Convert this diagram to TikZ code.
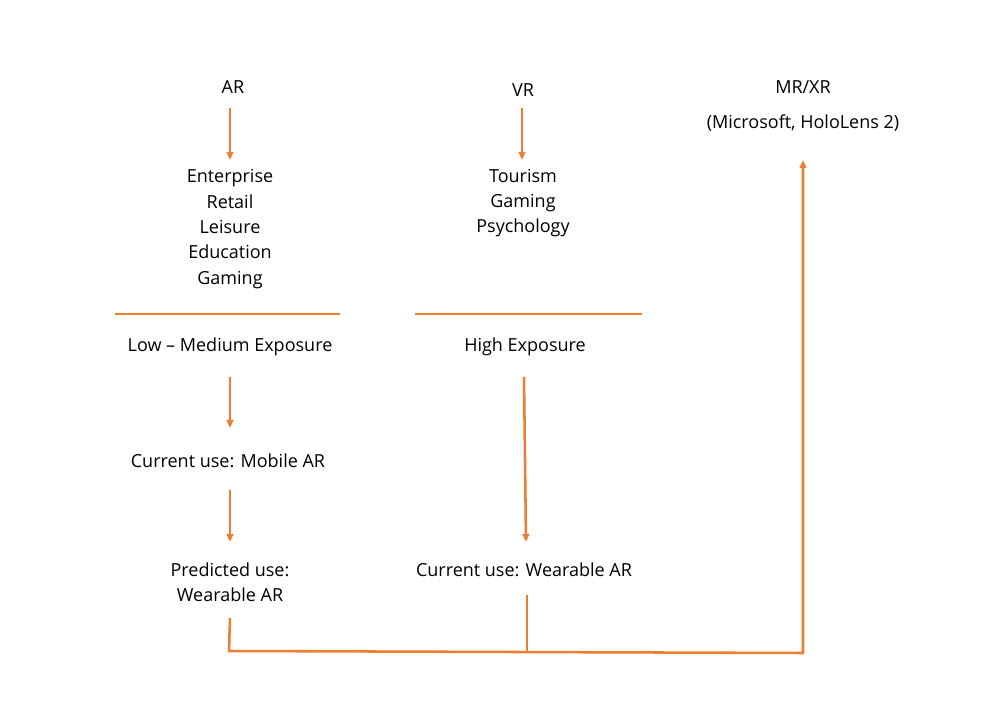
\documentclass[tikz,border=0pt]{standalone}
\usepackage{fontspec}
\setmainfont{Open Sans}
\usetikzlibrary{arrows.meta}
\definecolor{acc}{RGB}{237,125,49}
\tikzset{every picture/.style={line width=0.75pt}}
\tikzset{
  lbl/.style={align=center,font=\fontsize{13.5}{19}\selectfont,inner sep=0pt},
  con/.style={draw=acc,line width=1.9pt},
  arr/.style={con,-{Triangle[length=6pt,width=5pt]}}
}
\begin{document}
\begin{tikzpicture}[x=0.75pt,y=0.75pt,yscale=-1,xscale=1]
\useasboundingbox (0,0) rectangle (1004,720);

% Text Node
\node[lbl] (ar) at (233,87) {AR};
\node[lbl] (vr) at (523,90) {VR};
\node[lbl] (mr) at (803,87) {MR/XR};
\node[lbl] (ms) at (803,123) {(Microsoft, HoloLens 2)};
\node[lbl] (arlist) at (230,229) {Enterprise\\Retail\\Leisure\\Education\\Gaming};
\node[lbl] (vrlist) at (523,203) {Tourism\\Gaming\\Psychology};
\node[lbl] (low) at (230,347) {Low -- Medium Exposure};
\node[lbl] (high) at (525,347) {High Exposure};
\node[lbl] (mob) at (228,461) {Current use: Mobile AR};
\node[lbl] (pred) at (230,582) {Predicted use:\\Wearable AR};
\node[lbl] (wear) at (524,570) {Current use: Wearable AR};

% Coordinates
\coordinate (a1) at (230,108); \coordinate (a2) at (230,160);
\coordinate (v1) at (522,108); \coordinate (v2) at (522,160);
\coordinate (l1) at (115,314); \coordinate (l2) at (340,314);
\coordinate (r1) at (415,314); \coordinate (r2) at (642,314);
\coordinate (b1) at (230,377); \coordinate (b2) at (230,428);
\coordinate (c1) at (230,490); \coordinate (c2) at (230,542);
\coordinate (h1) at (524,377); \coordinate (h2) at (526,542);
\coordinate (p1) at (230,618); \coordinate (p2) at (229,651);
\coordinate (w1) at (527,595); \coordinate (w2) at (527,652);
\coordinate (e1) at (803,653); \coordinate (e2) at (803,160);

% Connectors
\draw[arr] (a1) -- (a2);
\draw[arr] (v1) -- (v2);
\draw[con] (l1) -- (l2);
\draw[con] (r1) -- (r2);
\draw[arr] (b1) -- (b2);
\draw[arr] (c1) -- (c2);
\draw[arr] (h1) -- (h2);
\draw[con] (w1) -- (w2);
\draw[arr] (p1) -- (p2) -- (e1) -- (e2);

\end{tikzpicture}
\end{document}
